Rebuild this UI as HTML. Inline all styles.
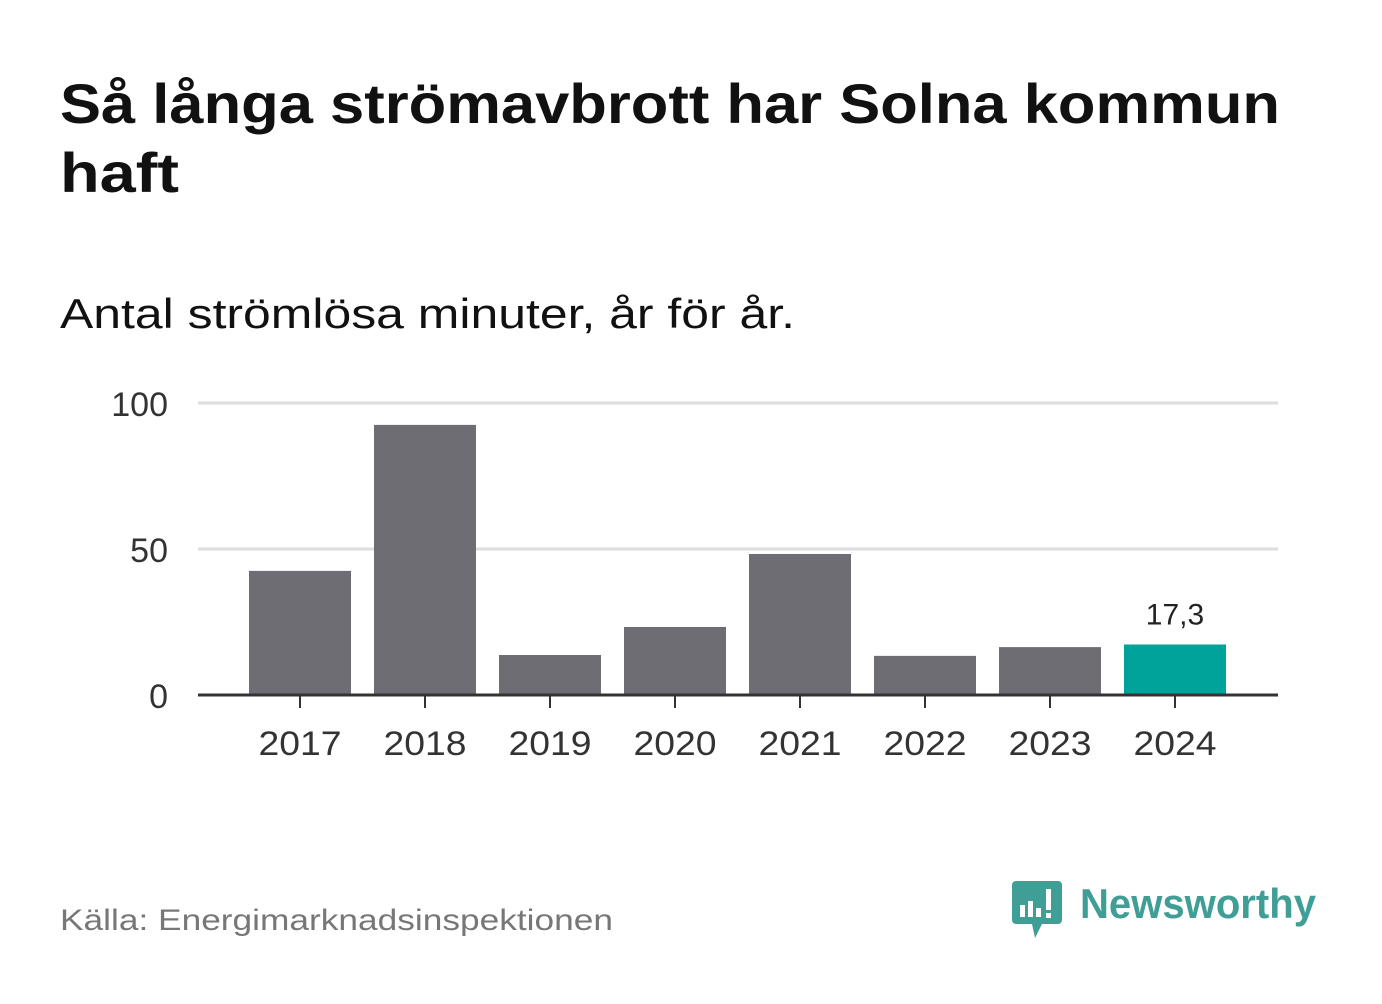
<!DOCTYPE html>
<html><head><meta charset="utf-8"><style>
body{margin:0;background:#fff;width:1382px;height:999px;overflow:hidden;font-family:"Liberation Sans","DejaVu Sans",sans-serif}
</style></head><body>
<svg width="1382" height="999" xmlns="http://www.w3.org/2000/svg">
<text x="60" y="123" font-size="56" font-weight="bold" fill="#111" textLength="1220" lengthAdjust="spacingAndGlyphs">Så långa strömavbrott har Solna kommun</text>
<text x="60" y="192" font-size="56" font-weight="bold" fill="#111" textLength="119" lengthAdjust="spacingAndGlyphs">haft</text>
<text x="60" y="328" font-size="42" fill="#111" textLength="735" lengthAdjust="spacingAndGlyphs">Antal strömlösa minuter, år för år.</text>
<g id="grid"></g><g id="bars"></g><g id="axis"></g>
<text x="60" y="930" font-size="30" fill="#777" textLength="553" lengthAdjust="spacingAndGlyphs">Källa: Energimarknadsinspektionen</text>
<g>
<path d="M1016 881 h42 a4 4 0 0 1 4 4 v35 a4 4 0 0 1 -4 4 h-16 l-7 14 l-3 -14 h-16 a4 4 0 0 1 -4 -4 v-35 a4 4 0 0 1 4 -4z" fill="#3f9e96"/>
<rect x="1020" y="905" width="5" height="12" fill="#fff"/><rect x="1028" y="901" width="5" height="16" fill="#fff"/><rect x="1036" y="908" width="5" height="9" fill="#fff"/><rect x="1046" y="889" width="5" height="21" fill="#fff"/><rect x="1046" y="913" width="5" height="5" fill="#fff"/>
<text x="1080" y="918" font-size="42" font-weight="bold" fill="#3f9e96" textLength="236" lengthAdjust="spacingAndGlyphs">Newsworthy</text>
</g>
</svg>
<script>
const years=["2017","2018","2019","2020","2021","2022","2023","2024"];
const values=[42.5,92.5,13.7,23.3,48.3,13.4,16.4,17.3];
const yTicks=[0,50,100];
const highlightLabel="17,3";
const NS="http://www.w3.org/2000/svg";
const y0=695,yScale=v=>y0-v*2.92,xCenter=i=>300+i*125;
function mk(t,a,p){const e=document.createElementNS(NS,t);for(const k in a)e.setAttribute(k,a[k]);p.appendChild(e);return e;}
const g=document.getElementById('grid'),b=document.getElementById('bars'),ax=document.getElementById('axis');
yTicks.forEach(v=>{
 if(v>0){const l=mk('line',{x1:198,x2:1278,y1:yScale(v),y2:yScale(v),stroke:'#ddd','stroke-width':3},g);
 
 }
 const t=mk('text',{x:168,y:yScale(v)+13,'text-anchor':'end','font-size':34,fill:'#333'},g);t.textContent=v;
 
 
});
values.forEach((v,i)=>{
 const last=i===values.length-1;
 const r=mk('rect',{x:xCenter(i)-51,y:yScale(v),width:102,height:y0-yScale(v),fill:last?'#00a399':'#6e6d73'},b);
 
 
 const t=mk('text',{x:xCenter(i),y:755,'text-anchor':'middle','font-size':34,fill:'#333',textLength:83,lengthAdjust:'spacingAndGlyphs'},ax);t.textContent=years[i];
 
 
 mk('line',{x1:xCenter(i),x2:xCenter(i),y1:695,y2:708,stroke:'#333','stroke-width':2},ax);
 if(last){const lb=mk('text',{x:xCenter(i),y:yScale(v)-20,'text-anchor':'middle','font-size':30,fill:'#222'},b);lb.textContent=highlightLabel;
 
 }
});
const base=mk('line',{x1:198,x2:1278,y1:695,y2:695,stroke:'#333','stroke-width':3},ax);


</script>
</body></html>
